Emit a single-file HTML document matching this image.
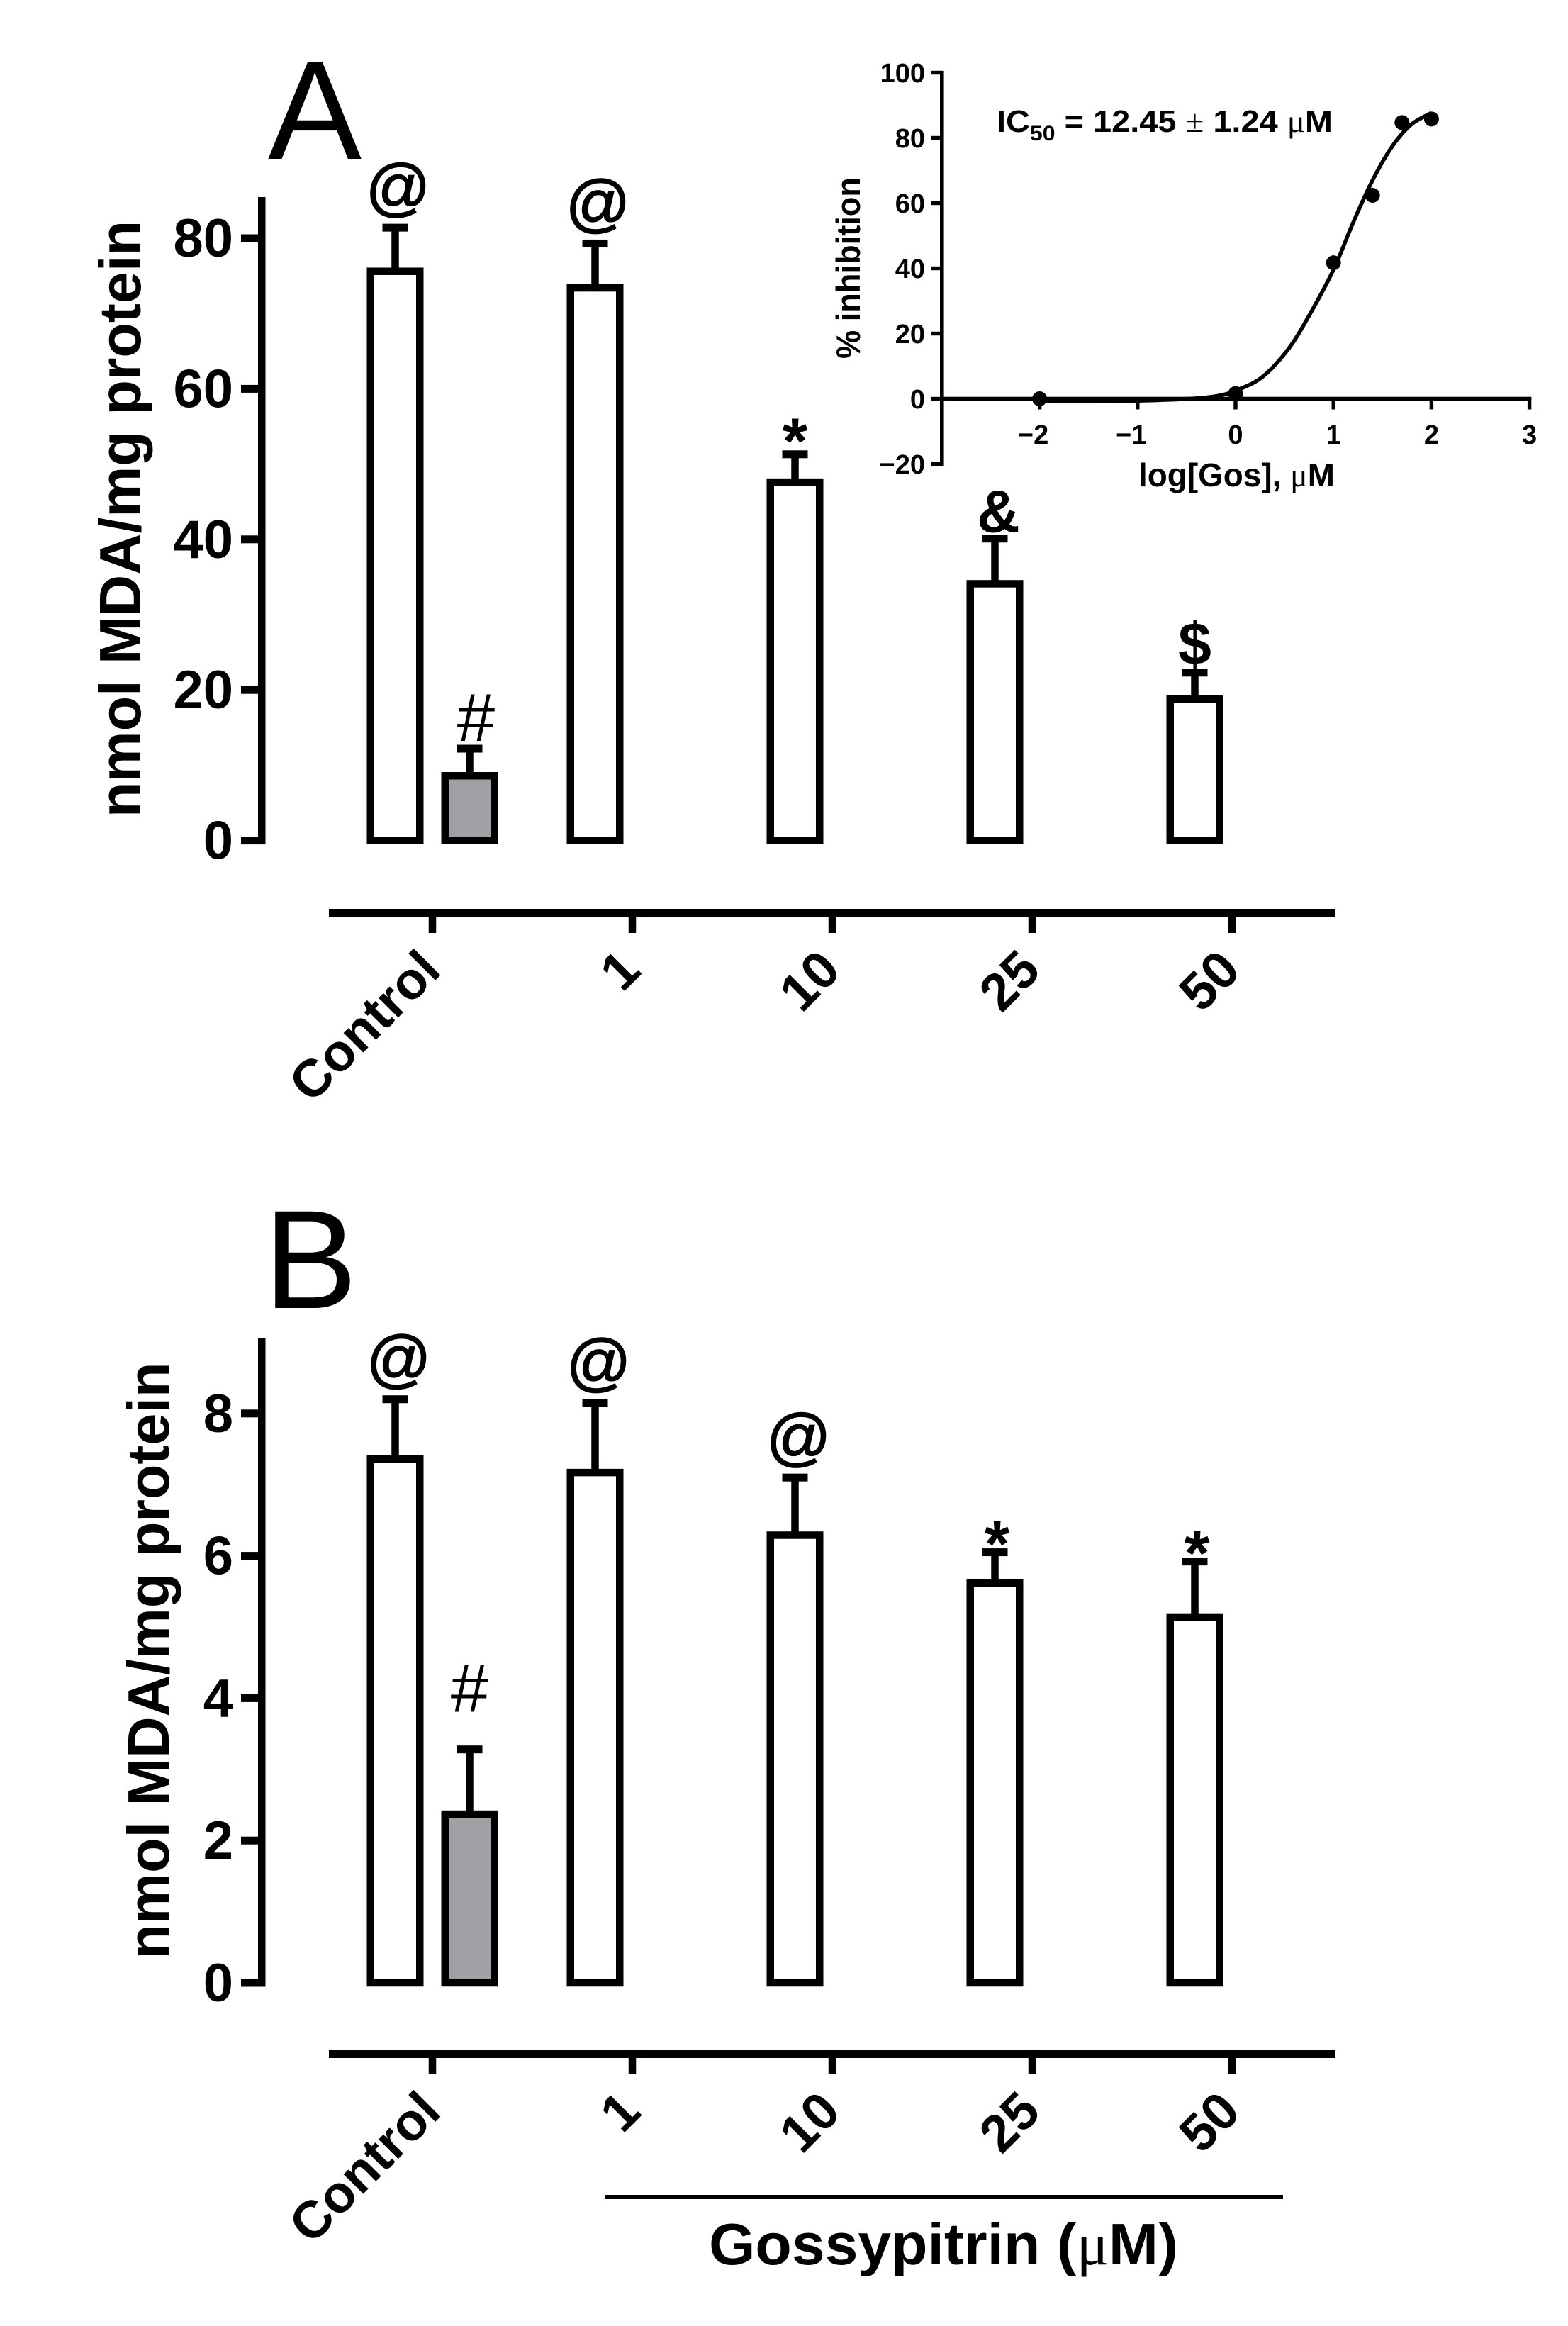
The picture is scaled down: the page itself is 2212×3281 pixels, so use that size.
<!DOCTYPE html>
<html lang="en">
<head>
<meta charset="utf-8">
<title>MDA inhibition by gossypitrin</title>
<style>
html,body{margin:0;padding:0;background:#fff;}
svg{display:block;}
text{font-family:"Liberation Sans",sans-serif;fill:#000;}
.b{font-weight:700;}
.sym{font-family:"Liberation Serif",serif;font-weight:400;}
</style>
</head>
<body>
<svg id="figure" xmlns="http://www.w3.org/2000/svg" width="2212" height="3281" viewBox="0 0 2212 3281">
<rect x="0" y="0" width="2212" height="3281" fill="#ffffff"/>
</svg>
<script>
// ---- Data ----
const groupLabels = ['Control', '1', '10', '25', '50'];
const panelATicks = [0, 20, 40, 60, 80];
const panelAValues = [75.6, 8.6, 73.4, 47.6, 34.1, 18.8];
const panelAErrors = [81.4, 12.2, 79.3, 51.3, 40.1, 22.3];
const panelASymbols = ['@', '#', '@', '*', '&', '$'];
const panelBTicks = [0, 2, 4, 6, 8];
const panelBValues = [7.36, 2.37, 7.17, 6.29, 5.62, 5.14];
const panelBErrors = [8.2, 3.28, 8.15, 7.1, 6.05, 5.92];
const panelBSymbols = ['@', '#', '@', '@', '*', '*'];
const insetYTicks = [-20, 0, 20, 40, 60, 80, 100];
const insetXTicks = [-2, -1, 0, 1, 2, 3];
const insetPointsX = [-2, 0, 1, 1.398, 1.699, 2];
const insetPointsY = [0, 1.6, 41.7, 62.4, 84.7, 85.8];
const curveX = [-2, -1.5, -1, -0.47, -0.2, 0, 0.27, 0.54, 0.76, 1, 1.2, 1.39, 1.59, 1.79, 2];
const curveY = [-0.7, -0.7, -0.6, 0, 0.8, 2.5, 6.6, 15.3, 26, 39.6, 54, 66.5, 77, 84, 87.7];

const NS = 'http://www.w3.org/2000/svg';
const svg = document.getElementById('figure');
function mk(tag, attrs, parent) {
  const el = document.createElementNS(NS, tag);
  for (const k in attrs) el.setAttribute(k, attrs[k]);
  (parent || svg).appendChild(el);
  return el;
}
function label(parent, txt, attrs, name) {
  const el = mk('text', attrs, parent);
  el.textContent = txt;
  
  
  return el;
}
function box(parent, x, y, w, h, name) {
  const el = mk('rect', {x: x, y: y, width: w, height: h, fill: '#000'}, parent);
  
  
  return el;
}

// ---- Shared bar panel ----
const groupX = i => 610 + 282 * i;
const barCenter = i => i === 0 ? groupX(0) - 52.5 : i === 1 ? groupX(0) + 52.5 : groupX(i - 1) - 52.5;

function drawPanel(cfg) {
  const g = mk('g', {});
  
  
  const y = v => cfg.y0 - v * cfg.k;

  label(g, cfg.letter, {x: cfg.letterX, y: cfg.letterY, 'font-size': 198}, 'panel-letter');
  label(g, 'nmol MDA/mg protein', {
    transform: 'translate(' + cfg.titleX + ',' + cfg.titleY + ') rotate(-90)',
    'text-anchor': 'middle', 'font-size': 83, 'class': 'b',
    textLength: 842, lengthAdjust: 'spacingAndGlyphs'
  }, 'y-axis-title');

  box(g, 364, cfg.axisTop, 10.5, cfg.y0 + 5.5 - cfg.axisTop, 'y-axis-line');
  cfg.ticks.forEach(t => {
    box(g, 340, y(t) - 5.5, 25, 11, 'y-axis-tick');
    label(g, String(t), {x: 329, y: y(t) + 26, 'text-anchor': 'end', 'font-size': 76, 'class': 'b'}, 'y-axis-tick-label');
  });

  cfg.values.forEach((v, i) => {
    const c = barCenter(i);
    const capY = y(cfg.errors[i]);
    box(g, c - 5.25, capY, 10.5, y(v) - capY, 'error-bar-stem');
    box(g, c - 18, capY - 5.5, 36, 11, 'error-bar-cap');
    const bar = mk('rect', {
      x: c - 34.75, y: y(v), width: 69.5,
      height: cfg.y0 - y(v), fill: i === 1 ? '#a1a0a5' : '#ffffff',
      stroke: '#000', 'stroke-width': 10.5
    }, g);
    
    
    const s = cfg.symbols[i];
    const st = cfg.symbolStyle[s];
    const sym = label(g, s, {
      x: c + st.dx, y: capY - st.lift, 'text-anchor': 'middle',
      'font-size': st.size, 'class': st.bold ? 'b' : ''
    }, 'significance-symbol');
    if (st.thick) {
      sym.setAttribute('stroke', '#000');
      sym.setAttribute('stroke-width', st.thick);
    }
  });

  box(g, 464, cfg.baseY, 1420, 11, 'x-axis-line');
  groupLabels.forEach((t, i) => {
    box(g, groupX(i) - 5.25, cfg.baseY + 11, 10.5, 23, 'x-axis-tick');
    label(g, t, {
      transform: 'translate(' + (groupX(i) + 15) + ',' + (cfg.baseY + 90) + ') rotate(-45)',
      'text-anchor': 'end', 'font-size': 74, 'class': 'b'
    }, 'x-axis-tick-label');
  });
  return g;
}

drawPanel({
  name: 'panel-a', letter: 'A', letterX: 378, letterY: 224,
  titleX: 198, titleY: 732, axisTop: 278,
  y0: 1185.6, k: 10.62, baseY: 1282,
  ticks: panelATicks, values: panelAValues, errors: panelAErrors, symbols: panelASymbols,
  symbolStyle: {
    '@': {size: 90, dx: 4, lift: 26, thick: 1.6},
    '#': {size: 96, dx: 9, lift: 11},
    '*': {size: 92, dx: 0, lift: -13, bold: true},
    '&': {size: 84, dx: 5, lift: 9, bold: true},
    '$': {size: 84, dx: 0, lift: 12, bold: true}
  }
});

drawPanel({
  name: 'panel-b', letter: 'B', letterX: 372, letterY: 1845,
  titleX: 238, titleY: 2342.5, axisTop: 1888,
  y0: 2797, k: 100.4, baseY: 2892,
  ticks: panelBTicks, values: panelBValues, errors: panelBErrors, symbols: panelBSymbols,
  symbolStyle: {
    '@': {size: 90, dx: 5, lift: 26, thick: 1.6},
    '#': {size: 96, dx: 0, lift: 53},
    '*': {size: 92, dx: 3, lift: -20, bold: true}
  }
});

box(svg, 853, 3096, 957, 6, 'gossypitrin-bracket-line');
const gos = mk('text', {x: 1000, y: 3194, 'font-size': 83, 'class': 'b', textLength: 662, lengthAdjust: 'spacingAndGlyphs'});


gos.innerHTML = 'Gossypitrin (<tspan class="sym">μ</tspan>M)';

// ---- Inset dose-response ----
const inset = mk('g', {});


const ix = v => 1743 + v * 138.2;
const iy = v => 562.5 - v * 4.6;

box(inset, 1326, iy(100) - 2.7, 5.6, iy(-20) - iy(100) + 5.4, 'inset-y-axis-line');
insetYTicks.forEach(t => {
  box(inset, 1313, iy(t) - 2.7, 13.5, 5.4, 'inset-y-axis-tick');
  label(inset, String(t).replace('-', '\u2212'), {x: 1305, y: iy(t) + 13.5, 'text-anchor': 'end', 'font-size': 38, 'class': 'b'}, 'inset-y-tick-label');
});
box(inset, 1326, iy(0) - 2.8, ix(3) - 1326 + 2.8, 5.6, 'inset-x-axis-line');
insetXTicks.forEach(t => {
  box(inset, ix(t) - 2.7, iy(0), 5.4, 15, 'inset-x-axis-tick');
  label(inset, String(t).replace('-', '\u2212'), {x: ix(t) + (t < 0 ? -9 : 0), y: 626, 'text-anchor': 'middle', 'font-size': 38, 'class': 'b'}, 'inset-x-tick-label');
});

// smooth path through the read curve samples
let d = 'M' + ix(curveX[0]) + ' ' + iy(curveY[0]);
for (let i = 0; i < curveX.length - 1; i++) {
  const p0 = i > 0 ? i - 1 : i, p3 = i + 2 < curveX.length ? i + 2 : i + 1;
  const c1x = ix(curveX[i]) + (ix(curveX[i + 1]) - ix(curveX[p0])) / 6;
  const c1y = iy(curveY[i]) + (iy(curveY[i + 1]) - iy(curveY[p0])) / 6;
  const c2x = ix(curveX[i + 1]) - (ix(curveX[p3]) - ix(curveX[i])) / 6;
  const c2y = iy(curveY[i + 1]) - (iy(curveY[p3]) - iy(curveY[i])) / 6;
  d += 'C' + c1x + ' ' + c1y + ' ' + c2x + ' ' + c2y + ' ' + ix(curveX[i + 1]) + ' ' + iy(curveY[i + 1]);
}
const curve = mk('path', {d: d, fill: 'none', stroke: '#000', 'stroke-width': 5.5}, inset);



insetPointsX.forEach((x, i) => {
  const pt = mk('circle', {cx: ix(x), cy: iy(insetPointsY[i]), r: 10.5, fill: '#000'}, inset);
  
  
});

label(inset, '% inhibition', {
  transform: 'translate(1213,378) rotate(-90)', 'text-anchor': 'middle',
  'font-size': 47, 'class': 'b', textLength: 256, lengthAdjust: 'spacingAndGlyphs'
}, 'inset-y-axis-title');

const xt = mk('text', {x: 1606, y: 686, 'font-size': 46, 'class': 'b', textLength: 277, lengthAdjust: 'spacingAndGlyphs'}, inset);


xt.innerHTML = 'log[Gos], <tspan class="sym">μ</tspan>M';

const ic = mk('text', {x: 1406, y: 186, 'font-size': 44, 'class': 'b', textLength: 474, lengthAdjust: 'spacingAndGlyphs'}, inset);


ic.innerHTML = 'IC<tspan font-size="30" dy="12">50</tspan><tspan dy="-12"> = 12.45 </tspan><tspan class="sym">±</tspan> 1.24 <tspan class="sym">μ</tspan>M';
</script>
</body>
</html>
